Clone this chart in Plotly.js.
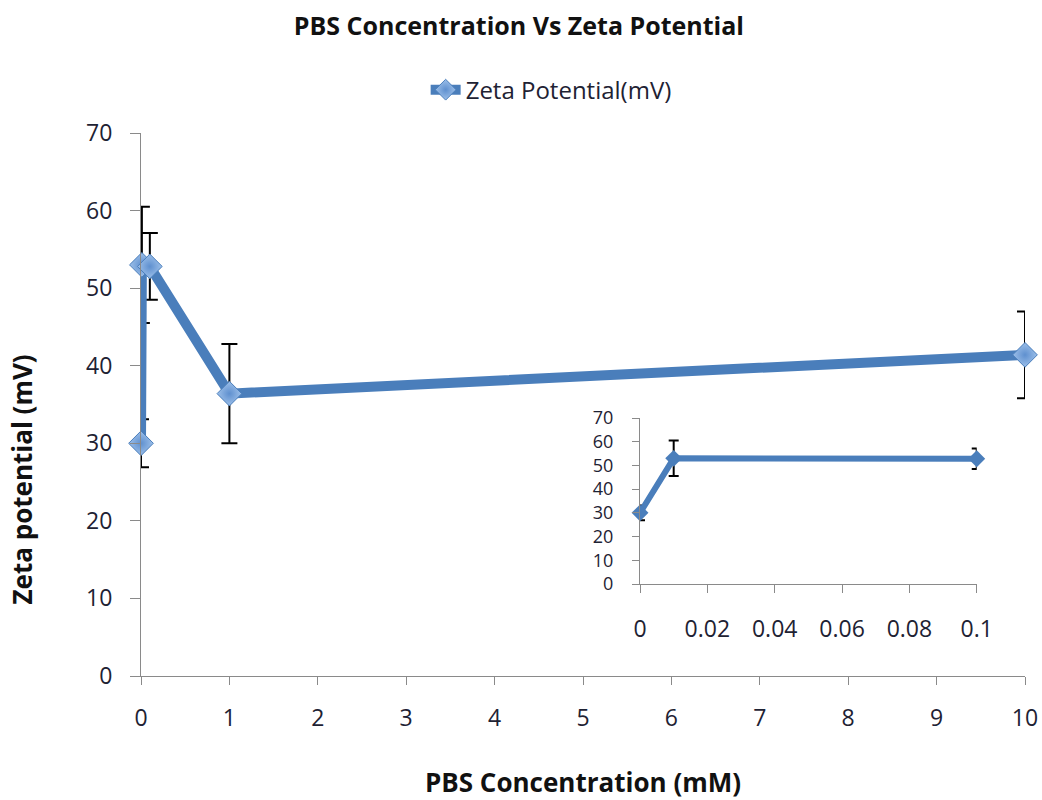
<!DOCTYPE html>
<html>
<head>
<meta charset="utf-8">
<script src="https://cdn.plot.ly/plotly-3.0.1.min.js"></script>
<style>
  html, body { margin: 0; padding: 0; background: #fff; }
  #chart { width: 1042px; height: 800px; }
</style>
</head>
<body>
<div id="chart"></div>
<script>
// PBS concentration (mM) and measured zeta potential (mV) with standard deviation
const concentration = [0, 0.01, 0.1, 1, 10];
const zeta = [30, 53, 52.8, 36.4, 41.4];
const zetaSd = [3.1, 7.5, 4.3, 6.4, 5.6];

// Low-concentration detail (first three samples)
const lowConcentration = concentration.slice(0, 3);
const lowZeta = zeta.slice(0, 3);
const lowZetaSd = zetaSd.slice(0, 3);

const seriesName = 'Zeta Potential(mV)';
const mainXTicks = [0, 1, 2, 3, 4, 5, 6, 7, 8, 9, 10];
const insetXTicks = [0, 0.02, 0.04, 0.06, 0.08, 0.1];
const insetXLabels = ['0', '0.02', '0.04', '0.06', '0.08', '0.1'];
const yTicks = [0, 10, 20, 30, 40, 50, 60, 70];

const FONT = '"Open Sans", Lato, "DejaVu Sans", sans-serif';
const TEXT = '#1e2233';
const BLUE = '#4a7ebb';
const AXIS = '#8a8a8a';

const mainTrace = {
  type: 'scatter',
  mode: 'lines+markers',
  name: seriesName,
  x: concentration,
  y: zeta,
  xaxis: 'x',
  yaxis: 'y',
  cliponaxis: false,
  line: { color: BLUE, width: 10 },
  marker: {
    symbol: 'diamond',
    size: 19,
    color: '#9cbfe9',
    gradient: { type: 'radial', color: '#5f90cf' },
    line: { color: '#4a7ebb', width: 1 }
  },
  error_y: {
    type: 'data', array: zetaSd, visible: true,
    color: '#000', thickness: 2, width: 8
  }
};

const insetTrace = {
  type: 'scatter',
  mode: 'lines+markers',
  name: seriesName,
  showlegend: false,
  x: lowConcentration,
  y: lowZeta,
  xaxis: 'x2',
  yaxis: 'y2',
  cliponaxis: false,
  line: { color: BLUE, width: 6 },
  marker: { symbol: 'diamond', size: 13, color: BLUE, line: { width: 0 } },
  error_y: {
    type: 'data', array: lowZetaSd, visible: true,
    color: '#000', thickness: 2, width: 5
  }
};

const layout = {
  width: 1042,
  height: 800,
  paper_bgcolor: '#ffffff',
  plot_bgcolor: 'rgba(0,0,0,0)',
  margin: { l: 141, r: 17, t: 133, b: 124 },
  font: { family: FONT, color: TEXT, size: 22 },
  title: {
    text: '<b>PBS Concentration Vs Zeta Potential</b>',
    font: { family: FONT, size: 25, color: '#111' },
    x: 0.498, xref: 'container', xanchor: 'center',
    y: 0.9675, yref: 'container', yanchor: 'middle'
  },
  showlegend: true,
  legend: {
    orientation: 'h',
    x: 0.322, xanchor: 'left', xref: 'paper',
    y: 1.079, yanchor: 'middle', yref: 'paper',
    font: { family: FONT, size: 24, color: TEXT },
    bgcolor: 'rgba(0,0,0,0)'
  },
  xaxis: {
    domain: [0, 1],
    range: [0, 10],
    tickvals: mainXTicks,
    ticks: 'outside', ticklen: 8, tickcolor: AXIS, tickwidth: 1,
    ticklabelstandoff: 13,
    showline: true, linecolor: AXIS, linewidth: 1,
    showgrid: false, zeroline: false,
    tickfont: { family: FONT, size: 23, color: TEXT },
    fixedrange: true
  },
  yaxis: {
    domain: [0, 1],
    range: [0, 70],
    tickvals: yTicks,
    ticks: 'outside', ticklen: 10, tickcolor: AXIS, tickwidth: 1,
    ticklabelstandoff: 13,
    showline: true, linecolor: AXIS, linewidth: 1,
    showgrid: false, zeroline: false,
    tickfont: { family: FONT, size: 23, color: TEXT },
    fixedrange: true
  },
  xaxis2: {
    domain: [0.5645, 0.9454],
    anchor: 'y2',
    range: [0, 0.1],
    tickvals: insetXTicks,
    ticktext: insetXLabels,
    ticks: 'outside', ticklen: 8, tickcolor: AXIS, tickwidth: 1,
    ticklabelstandoff: 16,
    showline: true, linecolor: AXIS, linewidth: 1,
    showgrid: false, zeroline: false,
    tickfont: { family: FONT, size: 23, color: TEXT },
    fixedrange: true
  },
  yaxis2: {
    domain: [0.1694, 0.4751],
    anchor: 'x2',
    range: [0, 70],
    tickvals: yTicks,
    ticks: 'outside', ticklen: 7, tickcolor: AXIS, tickwidth: 1,
    ticklabelstandoff: 15,
    showline: true, linecolor: AXIS, linewidth: 1,
    showgrid: false, zeroline: false,
    tickfont: { family: FONT, size: 18, color: TEXT },
    fixedrange: true
  },
  annotations: [
    {
      text: '<b>PBS Concentration (mM)</b>',
      xref: 'paper', yref: 'paper',
      x: 0.5, y: -0.1952, xanchor: 'center', yanchor: 'middle',
      showarrow: false,
      font: { family: FONT, size: 26, color: '#111' }
    },
    {
      text: '<b>Zeta potential (mV)</b>',
      xref: 'paper', yref: 'paper',
      x: -0.1346, y: 0.362, xanchor: 'center', yanchor: 'middle',
      textangle: -90,
      showarrow: false,
      font: { family: FONT, size: 26, color: '#111' }
    }
  ]
};

Plotly.newPlot('chart', [mainTrace, insetTrace], layout, { displayModeBar: false, staticPlot: true });
</script>
</body>
</html>
